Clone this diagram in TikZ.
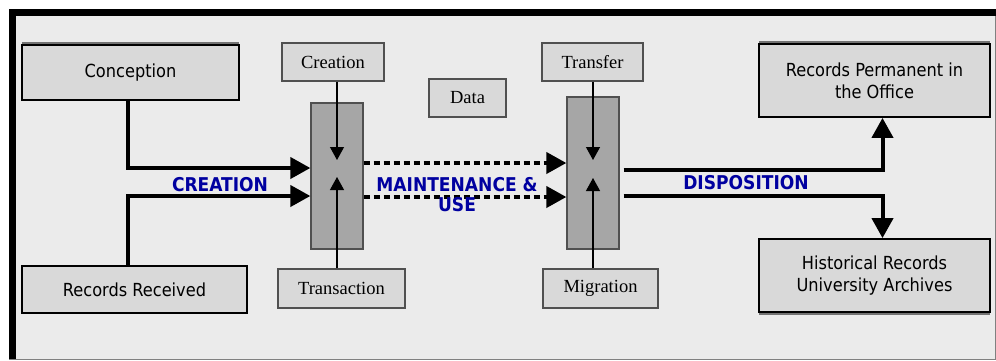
\documentclass[tikz,border=0pt]{standalone}
\usepackage{fontspec}
\setmainfont{Liberation Serif}
\newfontfamily\tahoma{DejaVu Sans Condensed}
\usetikzlibrary{arrows.meta,shadows}

\definecolor{framebg}{HTML}{EBEBEB}
\definecolor{boxfill}{HTML}{D9D9D9}
\definecolor{colfill}{HTML}{A6A6A6}
\definecolor{edgegray}{HTML}{505050}
\definecolor{phaseblue}{HTML}{0000A0}

\tikzset{
  bigbox/.style={draw=black, line width=1.8pt, fill=boxfill, align=center,
    font=\tahoma\fontsize{18}{22}\selectfont},
  smallbox/.style={draw=edgegray, line width=1.3pt, fill=boxfill,
    font=\fontsize{18.5}{20}\selectfont},
  column/.style={draw=edgegray, line width=1.3pt, fill=colfill},
  bigarrow/.style={line width=4pt, -{Triangle[length=20pt,width=21pt]}},
  dotarrow/.style={bigarrow, dash pattern=on 6pt off 4pt},
  thinarrow/.style={line width=1.2pt, -{Triangle[length=13pt,width=14pt]}},
  phase/.style={text=phaseblue, align=center,
    font=\tahoma\bfseries\fontsize{19}{20}\selectfont},
  upshadow/.style={general shadow={fill=black!55, shadow yshift=3pt}},
  downshadow/.style={general shadow={fill=black!55, shadow yshift=-3pt}}
}

\begin{document}
\begin{tikzpicture}[x=1pt,y=-1pt]
\useasboundingbox (0,0) rectangle (996,360);

% frame
\fill[white] (0,0) rectangle (996,360);
\fill[framebg] (9,9) rectangle (995,359);
\draw[gray, line width=1pt] (995,9) -- (995,359) -- (9,359);
\draw[black, line width=7pt] (12.5,359) -- (12.5,12.5) -- (996,12.5);

% left side
\node[bigbox, upshadow, minimum width=217pt, minimum height=55pt] (concep) at (130.5,72.5) {Conception};
\node[bigbox, minimum width=225pt, minimum height=47pt] (received) at (134.5,289.5) {Records Received};

% first column
\node[column, minimum width=52pt, minimum height=146pt] (colA) at (337,176) {};
\node[smallbox, minimum width=102pt, minimum height=38pt] (creation) at (333,62) {Creation};
\node[smallbox, minimum width=127pt, minimum height=39pt] (transac) at (341.5,288.5) {Transaction};
\node[smallbox, minimum width=77pt, minimum height=38pt] (data) at (467.5,98) {Data};

% second column
\node[column, minimum width=52pt, minimum height=152pt] (colB) at (593,173) {};
\node[smallbox, minimum width=101pt, minimum height=38pt] (transfer) at (592.5,62) {Transfer};
\node[smallbox, minimum width=115pt, minimum height=39pt] (migration) at (600.5,288.5) {Migration};

% right side
\node[bigbox, upshadow, minimum width=231pt, minimum height=73pt] (permanent) at (874.5,80.5) {Records Permanent in\\the Office};
\node[bigbox, downshadow, minimum width=231pt, minimum height=73pt] (historical) at (874.5,275.5) {Historical Records\\University Archives};

% creation
\draw[bigarrow] ([xshift=-3pt]concep.south) |- ([yshift=8pt]colA.west);
\draw[bigarrow] ([xshift=-7pt]received.north) |- ([yshift=-20pt]colA.west);
\draw[thinarrow] (creation.south -| colA) -- ([yshift=16pt]colA.center);
\draw[thinarrow] (transac.north -| colA) -- ([yshift=-1pt]colA.center);
\node[phase] (lcreation) at (220,185) {CREATION};

% maintenance & use
\draw[dotarrow] ([yshift=13pt]colA.east) -- ([yshift=13pt]colA.east -| colB.west);
\draw[dotarrow] ([yshift=-21pt]colA.east) -- ([yshift=-21pt]colA.east -| colB.west);
\draw[thinarrow] (transfer.south -| colB) -- ([yshift=13pt]colB.center);
\draw[thinarrow] (migration.north -| colB) -- ([yshift=-5pt]colB.center);
\node[phase] (lmaint) at (457,195) {MAINTENANCE \&\\USE};

% disposition
\draw[bigarrow] ([xshift=4pt,yshift=3pt]colB.east) -| ([xshift=8pt]permanent.south);
\draw[bigarrow] ([xshift=4pt,yshift=-23pt]colB.east) -| ([xshift=8pt]historical.north);
\node[phase] (ldispo) at (746,183) {DISPOSITION};
\end{tikzpicture}
\end{document}
